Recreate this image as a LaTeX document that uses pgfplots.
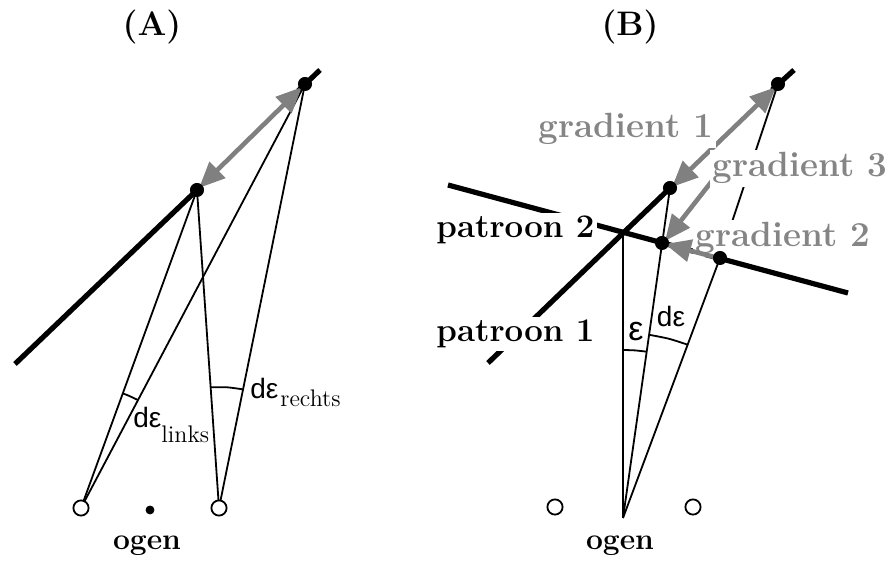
\documentclass[border=0pt]{standalone}
\usepackage{fontspec}
\usepackage{pgfplots}
\pgfplotsset{compat=1.18}
\usetikzlibrary{arrows.meta}
\newfontfamily\sansf{Liberation Sans}
\definecolor{arrgray}{RGB}{128,128,128}
\definecolor{txtgray}{RGB}{133,133,133}
\newcommand\lab{\fontsize{16.5}{18}\selectfont\bfseries}
\newcommand\glab{\fontsize{17.5}{19}\selectfont\bfseries}
\begin{document}
\begin{tikzpicture}
\begin{axis}[width=448pt,height=282.5pt,scale only axis,
  xmin=0,xmax=896,ymin=0,ymax=565,y dir=reverse,hide axis,clip=false]
\path (axis cs:0,0) rectangle (axis cs:896,565);
% ---------- Panel A ----------
\addplot[black,line width=2.6pt,no marks] coordinates {(15,364) (197,190)};
\addplot[black,line width=2.6pt,no marks] coordinates {(298,91) (320,70)};
\addplot[black,line width=0.9pt,no marks] coordinates {(81,508) (197,190)};
\addplot[black,line width=0.9pt,no marks] coordinates {(81,508) (305,84)};
\addplot[black,line width=0.9pt,no marks] coordinates {(219,508) (197,190)};
\addplot[black,line width=0.9pt,no marks] coordinates {(219,508) (305,84)};
% angle arcs A
\addplot[black,line width=0.9pt,no marks,smooth] coordinates {(122.8,393.4) (128.0,395.4) (133.0,397.7) (138.0,400.1)};
\addplot[black,line width=0.9pt,no marks,smooth] coordinates {(210.7,387.3) (226.9,387.3) (243.1,389.4)};
% gray double arrow A
\addplot[arrgray,line width=2.3pt,no marks,{Triangle[length=13pt,width=11pt]}-{Triangle[length=13pt,width=11pt]}] coordinates {(199,188) (302,87)};
% eyes A
\addplot[only marks,mark=*,mark size=3.8pt,mark options={fill=white,draw=black,line width=0.9pt}] coordinates {(81,508) (219,508)};
\addplot[only marks,mark=*,mark size=2pt,black] coordinates {(150,510)};
% dots A
\addplot[only marks,mark=*,mark size=3.3pt,black] coordinates {(197,190) (305,84)};
% labels A
\node[font=\fontsize{17}{19}\selectfont\bfseries] at (axis cs:152,27) {(A)};
\node[font=\fontsize{15}{17}\selectfont\bfseries,anchor=base] at (axis cs:147,550) {ogen};
\node[font=\fontsize{14}{16}\selectfont\sansf,anchor=base west,inner sep=0pt] at (axis cs:133,428) {dε};
\node[font=\fontsize{12}{14}\selectfont,anchor=base west,inner sep=0pt] at (axis cs:161,443) {links};
\node[font=\fontsize{14}{16}\selectfont\sansf,anchor=base west,inner sep=0pt] at (axis cs:250,399) {dε};
\node[font=\fontsize{12}{14}\selectfont,anchor=base west,inner sep=0pt] at (axis cs:280,407) {rechts};
% ---------- Panel B ----------
\addplot[black,line width=2.6pt,no marks] coordinates {(488,363) (670,188)};
\addplot[black,line width=2.6pt,no marks] coordinates {(772,90) (794,70)};
\addplot[black,line width=2.6pt,no marks] coordinates {(448,185) (848,293)};
\addplot[black,line width=0.9pt,no marks] coordinates {(623,518) (623,233)};
\addplot[black,line width=0.9pt,no marks] coordinates {(623,518) (670,188)};
\addplot[black,line width=0.9pt,no marks] coordinates {(623,518) (720,258) (778,84)};
% angle arcs B
\addplot[black,line width=0.9pt,no marks,smooth] coordinates {(623,350) (634.9,350.4) (646.7,351.7)};
\addplot[black,line width=0.9pt,no marks,smooth] coordinates {(649.1,334.8) (668.6,338.7) (687.7,344.7)};
% pattern labels (white boxes hide the lines)
\node[font=\lab,anchor=base west,fill=white,inner sep=1.5pt] at (axis cs:433,238) {patroon 2};
\node[font=\lab,anchor=base west,fill=white,inner sep=1.5pt] at (axis cs:433,342) {patroon 1};
% gradient arrows
\addplot[arrgray,line width=2.3pt,no marks,{Triangle[length=13pt,width=11pt]}-{Triangle[length=13pt,width=11pt]}] coordinates {(672,187) (776,87)};
\node[font=\glab,text=txtgray,anchor=base,fill=white,inner sep=1.5pt] at (axis cs:626,138) {gradient 1};
\addplot[arrgray,line width=2.3pt,no marks,-{Triangle[length=13pt,width=11pt]}] coordinates {(712,181) (665,241)};
\node[font=\glab,text=txtgray,anchor=base,fill=white,inner sep=1.5pt] at (axis cs:800,177) {gradient 3};
\node[font=\glab,text=txtgray,anchor=base,fill=white,inner sep=1.5pt] at (axis cs:783,247) {gradient 2};
\addplot[arrgray,line width=2.3pt,no marks,-{Triangle[length=13pt,width=11pt]}] coordinates {(718,258) (665,244)};
% eyes B
\addplot[only marks,mark=*,mark size=3.8pt,mark options={fill=white,draw=black,line width=0.9pt}] coordinates {(555,507) (693,507)};
% dots B
\addplot[only marks,mark=*,mark size=3.3pt,black] coordinates {(670,188) (778,84) (662,243) (720,258)};
% labels B
\node[font=\fontsize{17}{19}\selectfont\bfseries] at (axis cs:630,27) {(B)};
\node[font=\fontsize{15}{17}\selectfont\bfseries,anchor=base] at (axis cs:620,550) {ogen};
\node[font=\fontsize{17}{19}\selectfont\sansf,anchor=base,inner sep=0pt] at (axis cs:636,341) {ε};
\node[font=\fontsize{14}{16}\selectfont\sansf,anchor=base,inner sep=0pt] at (axis cs:671,327) {dε};
\end{axis}
\end{tikzpicture}
\end{document}
